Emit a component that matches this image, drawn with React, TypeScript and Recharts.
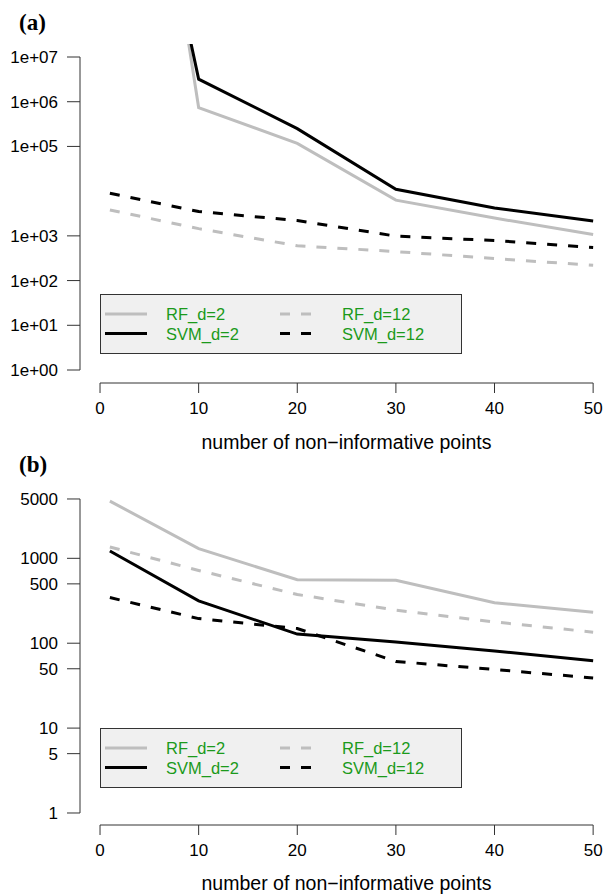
import { LineChart, Line, XAxis, YAxis, ReferenceLine, Legend } from "recharts";

const FONT = "'Liberation Sans', Arial, Helvetica, sans-serif";
const GREY = "#bebebe";
const LEGEND_GREEN = "#1b9a1b";

// x positions (number of non-informative points)
const xValues = [1, 10, 20, 30, 40, 50];
const xTicks = [0, 10, 20, 30, 40, 50];
const X_DOMAIN: [number, number] = [-2.03, 51.0];

const seriesNames = ["RF_d=2", "SVM_d=2", "RF_d=12", "SVM_d=12"];

// panel (a)
const rfD2A = [4e18, 7.4e5, 1.17e5, 6.3e3, 2.5e3, 1.07e3];
const svmD2A = [6e15, 3.2e6, 2.5e5, 1.1e4, 4.2e3, 2.15e3];
const rfD12A = [3.8e3, 1.45e3, 600, 445, 310, 220];
const svmD12A = [9e3, 3.5e3, 2.2e3, 985, 787, 550];
const yTicksA = [1, 10, 100, 1e3, 1e5, 1e6, 1e7];
const yTickLabelsA = ["1e+00", "1e+01", "1e+02", "1e+03", "1e+05", "1e+06", "1e+07"];

// panel (b)
const rfD2B = [4720, 1300, 560, 550, 300, 232];
const svmD2B = [1220, 315, 128, 103, 81, 62];
const rfD12B = [1360, 720, 375, 245, 178, 135];
const svmD12B = [345, 195, 149, 61, 49, 39];
const yTicksB = [1, 5, 10, 50, 100, 500, 1000, 5000];
const yTickLabelsB = ["1", "5", "10", "50", "100", "500", "1000", "5000"];

const buildRows = (rf2: number[], svm2: number[], rf12: number[], svm12: number[]) =>
  xValues.map((x, i) => ({ x, rf2: rf2[i], svm2: svm2[i], rf12: rf12[i], svm12: svm12[i] }));

const dataA = buildRows(rfD2A, svmD2A, rfD12A, svmD12A);
const dataB = buildRows(rfD2B, svmD2B, rfD12B, svmD12B);

function LegendBox(props: any) {
  const payload = props.payload || [];
  const rowY = [20, 39.5];
  const cols = [
    { x1: 5, x2: 47, tx: 66 },
    { x1: 180, x2: 213, tx: 242 },
  ];
  return (
    <svg width={362} height={60} style={{ display: "block" }}>
      <rect x={0.5} y={0.5} width={361} height={59} fill="#f0f0f0" stroke="#333" />
      {payload.map((entry: any) => {
        const idx = seriesNames.indexOf(entry.value);
        if (idx < 0) return null;
        const col = cols[Math.floor(idx / 2)];
        const y = rowY[idx % 2];
        const dash = entry.payload?.strokeDasharray;
        return (
          <g key={entry.value}>
            <line x1={col.x1} x2={col.x2} y1={y} y2={y} stroke={entry.color} strokeWidth={3} strokeDasharray={dash} />
            <text x={col.tx} y={y} dominantBaseline="central" fontSize={16.5} fontFamily={FONT} fill={LEGEND_GREEN}>
              {entry.value}
            </text>
          </g>
        );
      })}
    </svg>
  );
}

type PanelProps = {
  letter: string;
  data: any[];
  yDomain: [number, number];
  yTicks: number[];
  yTickLabels: string[];
  height: number;
  marginTop: number;
  xAxisHeight: number;
  titleOffset: number;
  legendTop: number;
};

function Panel(p: PanelProps) {
  return (
    <div style={{ position: "relative", width: 603, height: p.height }}>
      <LineChart
        width={603}
        height={p.height}
        data={p.data}
        margin={{ top: p.marginTop, right: 0, bottom: 0, left: 0 }}
      >
        <XAxis
          dataKey="x"
          type="number"
          domain={X_DOMAIN}
          allowDataOverflow
          ticks={xTicks}
          axisLine={false}
          tickSize={10}
          tickMargin={9}
          tickLine={{ stroke: "#333" }}
          tick={{ fill: "#000", fontSize: 17, fontFamily: FONT }}
          height={p.xAxisHeight}
          label={{
            value: "number of non\u2212informative points",
            position: "insideBottom",
            offset: p.titleOffset,
            dx: 5,
            fill: "#000",
            fontSize: 19.5,
            fontFamily: FONT,
          }}
        />
        <YAxis
          type="number"
          scale="log"
          domain={p.yDomain}
          allowDataOverflow
          ticks={p.yTicks}
          tickFormatter={(v: number) => p.yTickLabels[p.yTicks.indexOf(v)] ?? String(v)}
          axisLine={false}
          width={80}
          tickSize={13}
          tickMargin={9}
          tickLine={{ stroke: "#333" }}
          tick={{ fill: "#000", fontSize: 17, fontFamily: FONT }}
        />
        <ReferenceLine
          segment={[
            { x: X_DOMAIN[0], y: p.yTicks[0] },
            { x: X_DOMAIN[0], y: p.yTicks[p.yTicks.length - 1] },
          ]}
          stroke="#333"
          ifOverflow="visible"
        />
        <ReferenceLine
          segment={[
            { x: xTicks[0], y: p.yDomain[0] },
            { x: xTicks[xTicks.length - 1], y: p.yDomain[0] },
          ]}
          stroke="#333"
          ifOverflow="visible"
        />
        <Line type="linear" dataKey="rf2" name="RF_d=2" stroke={GREY} strokeWidth={3} dot={false} isAnimationActive={false} />
        <Line type="linear" dataKey="svm2" name="SVM_d=2" stroke="#000" strokeWidth={3} dot={false} isAnimationActive={false} />
        <Line type="linear" dataKey="rf12" name="RF_d=12" stroke={GREY} strokeWidth={3} strokeDasharray="10 11" dot={false} isAnimationActive={false} />
        <Line type="linear" dataKey="svm12" name="SVM_d=12" stroke="#000" strokeWidth={3} strokeDasharray="10 11" dot={false} isAnimationActive={false} />
        <Legend
          layout="horizontal"
          verticalAlign="middle"
          align="center"
          content={LegendBox}
          wrapperStyle={{ left: 100, top: p.legendTop, width: 362, height: 60 }}
        />
      </LineChart>
      <div
        style={{
          position: "absolute",
          left: 19,
          top: p.marginTop - 33,
          fontFamily: "'Liberation Serif', 'Times New Roman', serif",
          fontWeight: "bold",
          fontSize: 23,
          lineHeight: "23px",
        }}
      >
        {p.letter}
      </div>
    </div>
  );
}

export default function App() {
  return (
    <div style={{ position: "absolute", left: 0, top: 0, width: 603, height: 894, background: "#fff" }}>
      <Panel
        letter="(a)"
        data={dataA}
        yDomain={[0.512, 1.954e7]}
        yTicks={yTicksA}
        yTickLabels={yTickLabelsA}
        height={460}
        marginTop={44}
        xAxisHeight={77}
        titleOffset={11}
        legendTop={294}
      />
      <Panel
        letter="(b)"
        data={dataB}
        yDomain={[0.722, 7110]}
        yTicks={yTicksB}
        yTickLabels={yTickLabelsB}
        height={434}
        marginTop={26}
        xAxisHeight={69}
        titleOffset={4}
        legendTop={268}
      />
    </div>
  );
}
